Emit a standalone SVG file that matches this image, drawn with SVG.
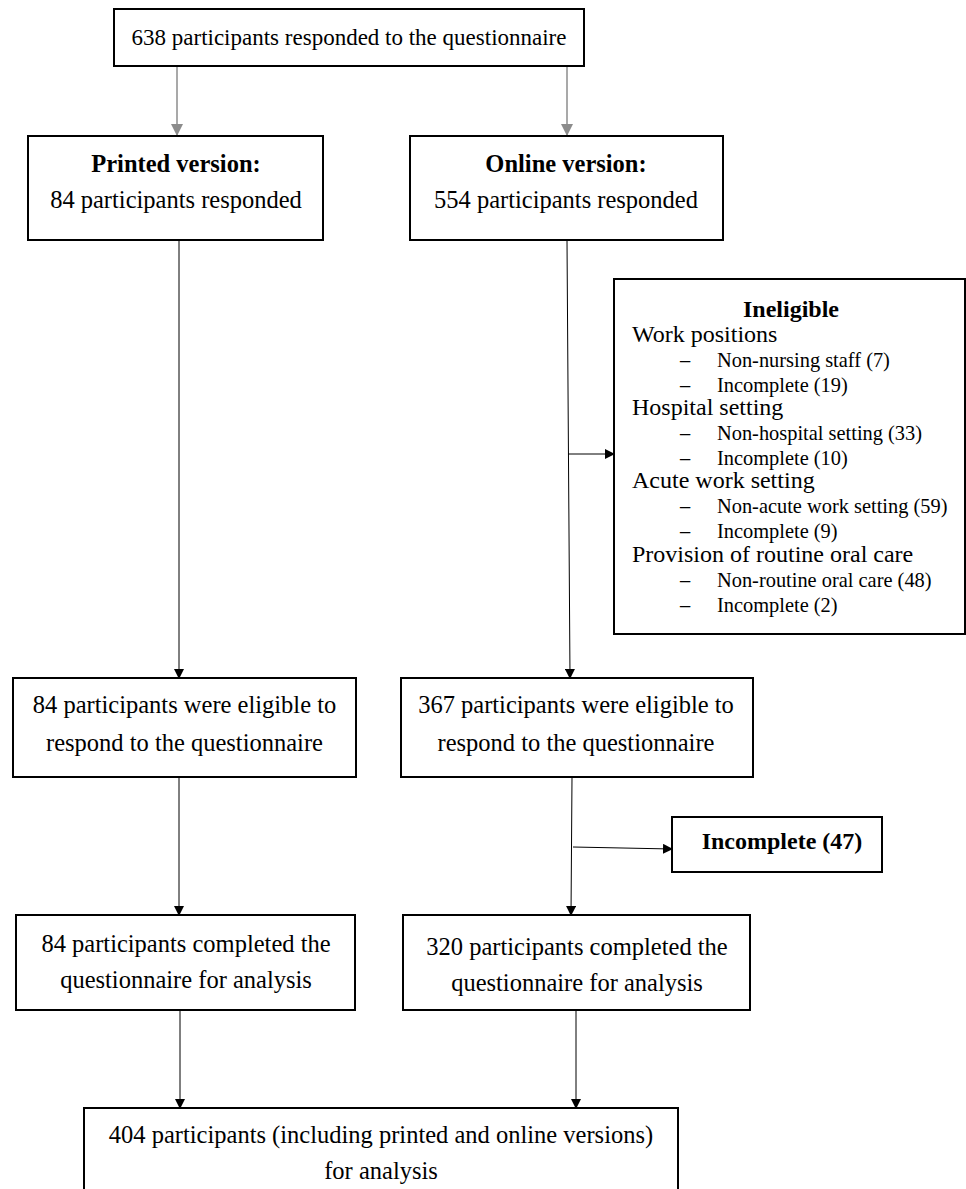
<svg xmlns="http://www.w3.org/2000/svg" width="966" height="1189" viewBox="0 0 966 1189">
<style>
.box{fill:#fff;stroke:#000;stroke-width:2}
.t{font-family:"Liberation Serif","Times New Roman",serif;font-size:24.5px;fill:#000;text-anchor:middle}
.b{font-weight:bold}
.h{font-family:"Liberation Serif","Times New Roman",serif;font-size:24px;fill:#000}
.i{font-family:"Liberation Serif","Times New Roman",serif;font-size:20.4px;fill:#000}
.c{stroke:#000;stroke-width:1;fill:none}
.g{stroke:#8c8c8c;stroke-width:1.5;fill:none}
</style>
<defs>
<marker id="ab" markerWidth="10" markerHeight="10" refX="9" refY="5" orient="auto" markerUnits="userSpaceOnUse"><path d="M0,0 L10,5 L0,10 Z" fill="#000"/></marker>
<marker id="ag" markerWidth="12" markerHeight="12" refX="11" refY="6" orient="auto" markerUnits="userSpaceOnUse"><path d="M0,0 L12,6 L0,12 Z" fill="#8c8c8c"/></marker>
</defs>
<rect width="966" height="1189" fill="#fff"/>
<g id="connectors">
<line class="g" x1="177" y1="66" x2="177" y2="135" marker-end="url(#ag)"/>
<line class="g" x1="567" y1="66" x2="567" y2="135" marker-end="url(#ag)"/>
<line class="c" x1="179" y1="240" x2="179" y2="678" marker-end="url(#ab)"/>
<line class="c" x1="567" y1="240" x2="570" y2="678" marker-end="url(#ab)"/>
<line class="c" x1="568" y1="454" x2="614" y2="454" marker-end="url(#ab)"/>
<line class="c" x1="179" y1="777" x2="179" y2="915" marker-end="url(#ab)"/>
<line class="c" x1="572" y1="777" x2="571" y2="915" marker-end="url(#ab)"/>
<line class="c" x1="573" y1="847" x2="672" y2="849" marker-end="url(#ab)"/>
<line class="c" x1="180" y1="1010" x2="180" y2="1108" marker-end="url(#ab)"/>
<line class="c" x1="576" y1="1010" x2="576" y2="1108" marker-end="url(#ab)"/>
</g>
<g id="n-total">
<rect class="box" x="114" y="9" width="470" height="57"/>
<text class="t" x="349" y="45" style="font-size:23px">638 participants responded to the questionnaire</text>
</g>
<g id="n-printed">
<rect class="box" x="28" y="136" width="295" height="104"/>
<text class="t b" x="176" y="172">Printed version:</text>
<text class="t" x="176" y="208">84 participants responded</text>
</g>
<g id="n-online">
<rect class="box" x="410" y="136" width="313" height="104"/>
<text class="t b" x="566" y="172">Online version:</text>
<text class="t" x="566" y="208">554 participants responded</text>
</g>
<g id="n-ineligible">
<rect class="box" x="614" y="279" width="351" height="355"/>
<text class="t b" x="791" y="317" style="font-size:24px">Ineligible</text>
<text class="h" x="632" y="342">Work positions</text>
<text class="i" x="680" y="367">–</text><text class="i" x="717" y="367">Non-nursing staff (7)</text>
<text class="i" x="680" y="392">–</text><text class="i" x="717" y="392">Incomplete (19)</text>
<text class="h" x="632" y="415">Hospital setting</text>
<text class="i" x="680" y="440">–</text><text class="i" x="717" y="440">Non-hospital setting (33)</text>
<text class="i" x="680" y="465">–</text><text class="i" x="717" y="465">Incomplete (10)</text>
<text class="h" x="632" y="488">Acute work setting</text>
<text class="i" x="680" y="513">–</text><text class="i" x="717" y="513">Non-acute work setting (59)</text>
<text class="i" x="680" y="538">–</text><text class="i" x="717" y="538">Incomplete (9)</text>
<text class="h" x="632" y="562">Provision of routine oral care</text>
<text class="i" x="680" y="587">–</text><text class="i" x="717" y="587">Non-routine oral care (48)</text>
<text class="i" x="680" y="612">–</text><text class="i" x="717" y="612">Incomplete (2)</text>
</g>
<g id="n-elig-printed">
<rect class="box" x="13" y="678" width="343" height="99"/>
<text class="t" x="184.5" y="713">84 participants were eligible to</text>
<text class="t" x="184.5" y="751">respond to the questionnaire</text>
</g>
<g id="n-elig-online">
<rect class="box" x="401" y="678" width="352" height="99"/>
<text class="t" x="576" y="713">367 participants were eligible to</text>
<text class="t" x="576" y="751">respond to the questionnaire</text>
</g>
<g id="n-incomplete">
<rect class="box" x="672" y="817" width="210" height="55"/>
<text class="t b" x="782" y="849" style="font-size:24px">Incomplete (47)</text>
</g>
<g id="n-comp-printed">
<rect class="box" x="16" y="915" width="339" height="95"/>
<text class="t" x="186" y="952">84 participants completed the</text>
<text class="t" x="186" y="988">questionnaire for analysis</text>
</g>
<g id="n-comp-online">
<rect class="box" x="403" y="915" width="347" height="95"/>
<text class="t" x="577" y="955">320 participants completed the</text>
<text class="t" x="577" y="991">questionnaire for analysis</text>
</g>
<g id="n-final">
<rect class="box" x="84" y="1108" width="594" height="90"/>
<text class="t" x="381" y="1143">404 participants (including printed and online versions)</text>
<text class="t" x="381" y="1179">for analysis</text>
</g>
</svg>
